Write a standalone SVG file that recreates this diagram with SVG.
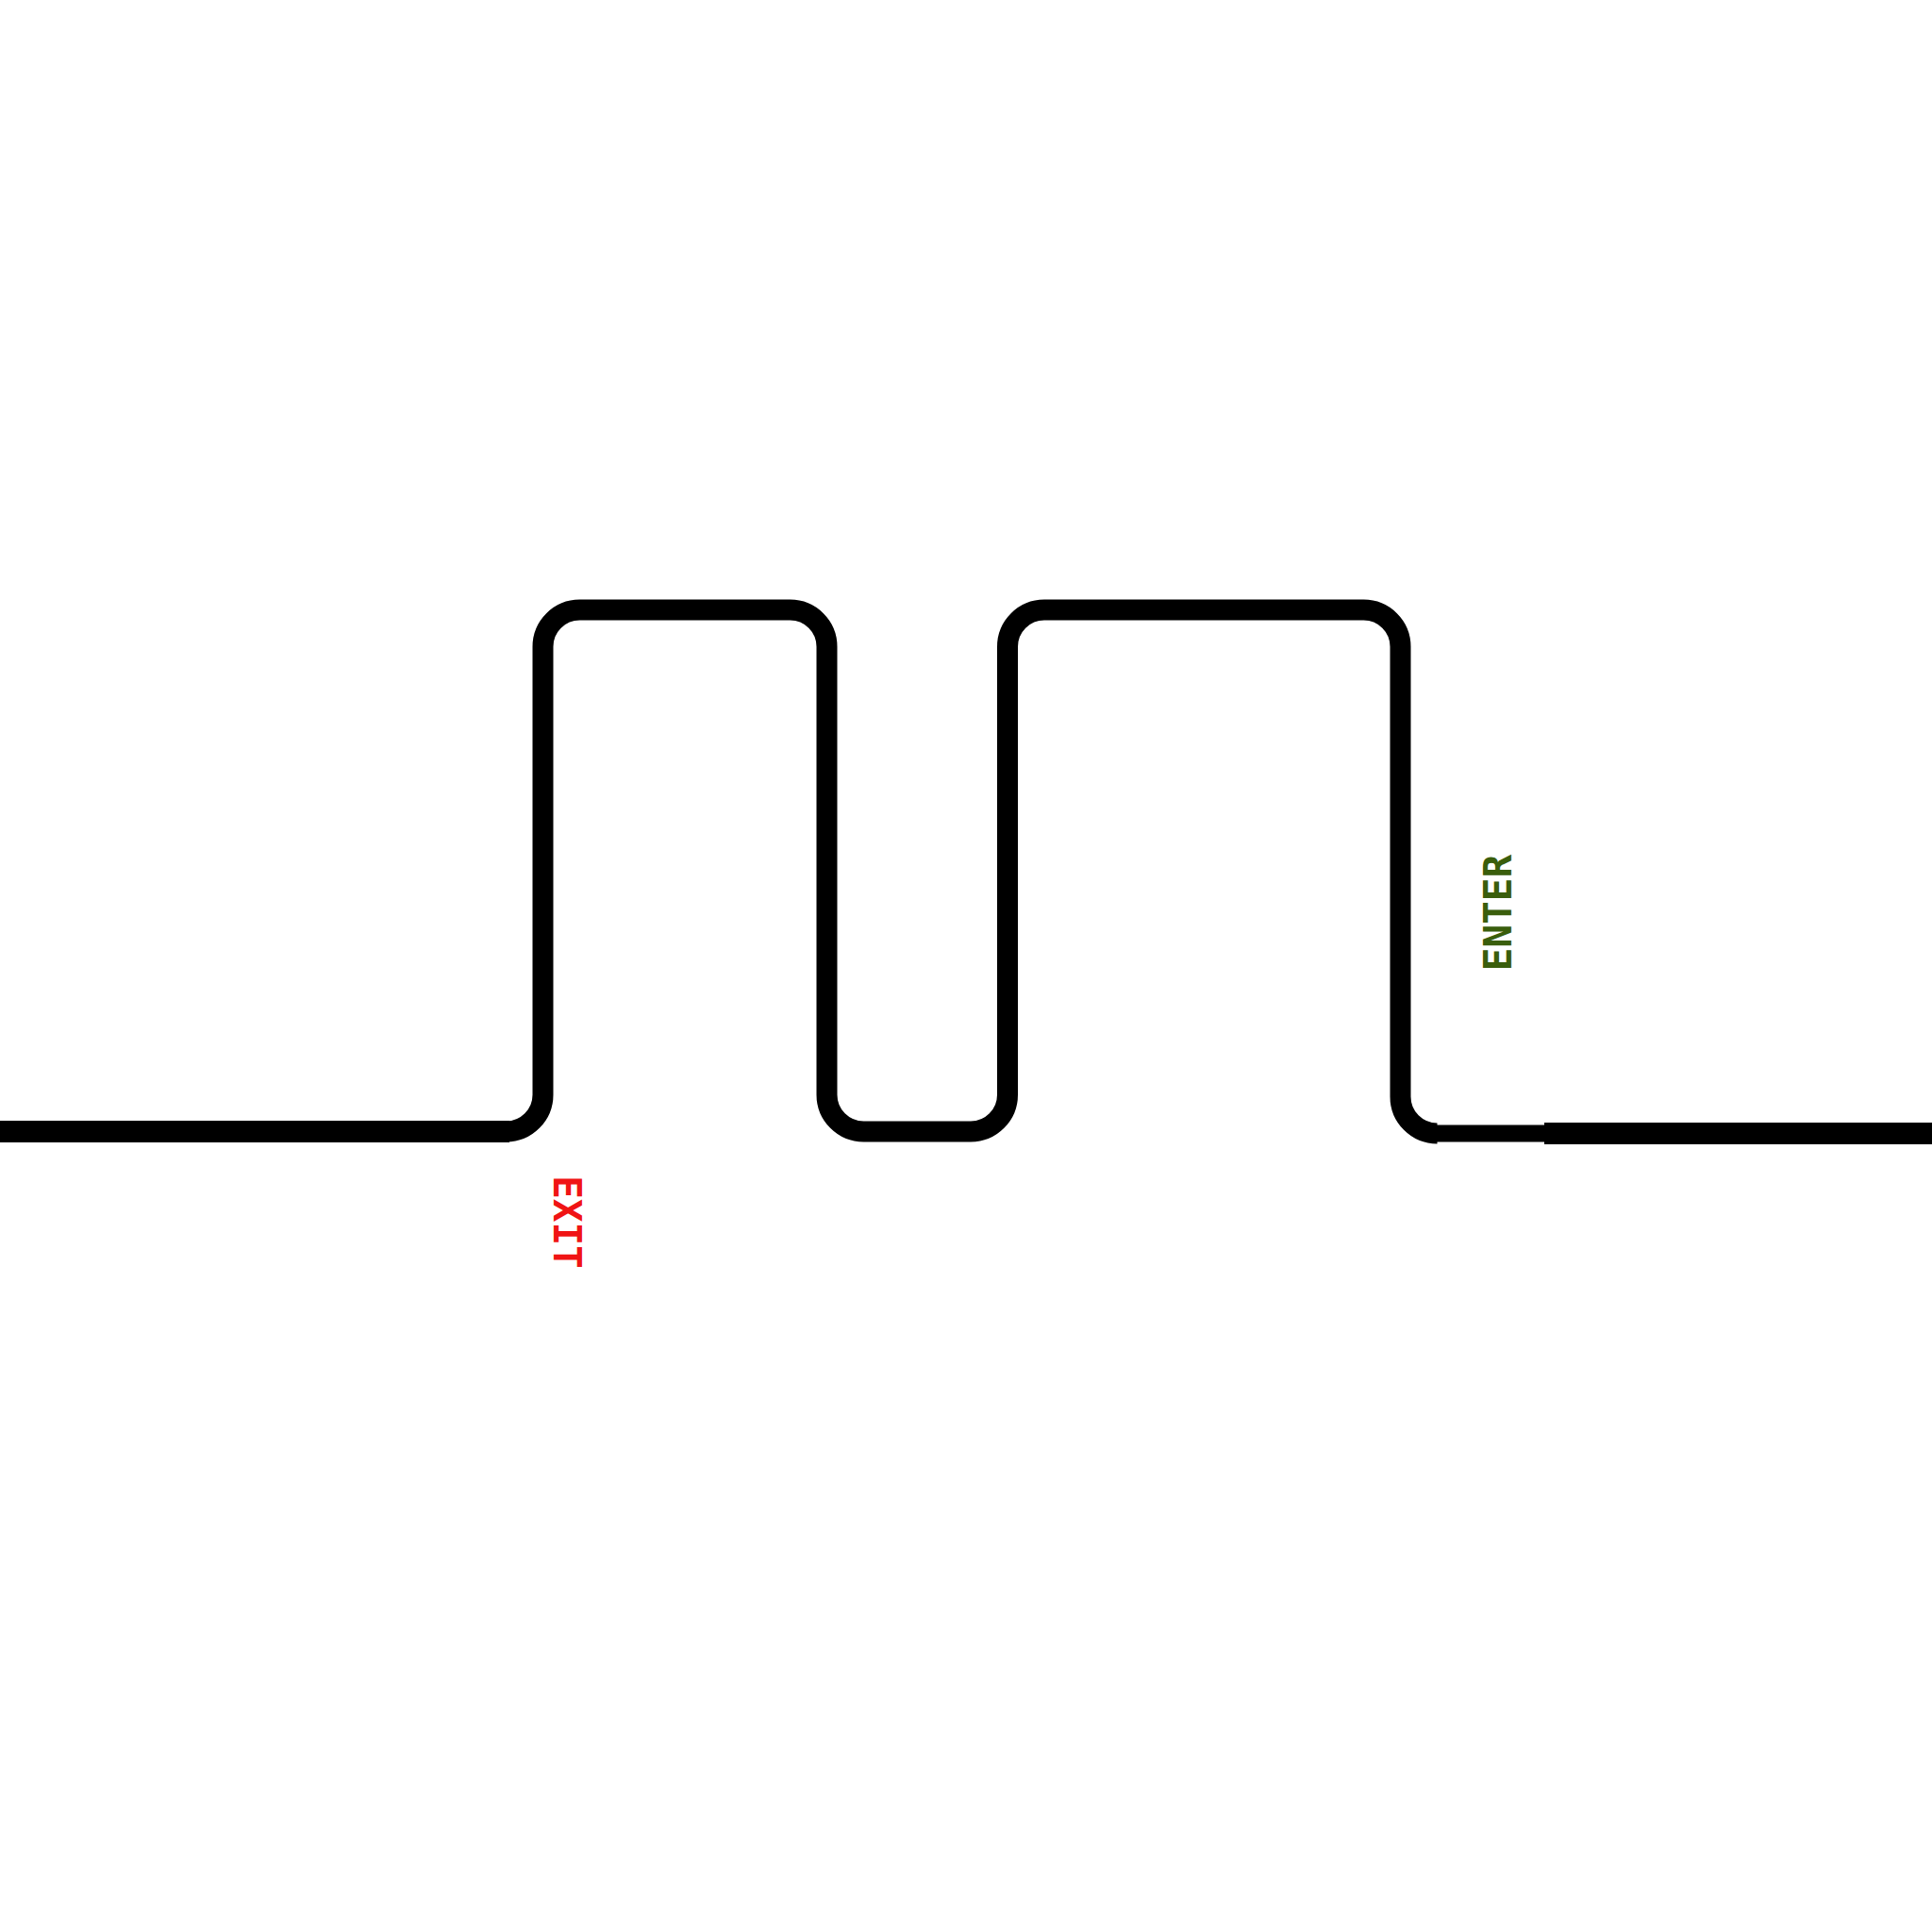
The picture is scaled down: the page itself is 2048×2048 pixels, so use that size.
<svg xmlns="http://www.w3.org/2000/svg" width="2048" height="2048" viewBox="0 0 2048 2048">
  <style>
    .track { fill: none; stroke: #000; stroke-width: 22; stroke-linejoin: round; }
    .thin { fill: none; stroke: #000; stroke-width: 18; }
    .thick { fill: none; stroke: #000; stroke-width: 23; }
    .lbl { font-family: "DejaVu Sans Mono", "Liberation Mono", monospace; font-weight: bold; font-size: 41px; text-anchor: middle; }
  </style>
  <rect width="2048" height="2048" fill="#fff"/>
  <g id="connectors">
    <path class="thick" d="M0,1199.5 H540"/>
    <path class="track" d="M530,1199.5 H536.5 A39 39 0 0 0 575.5,1160.5 V685.5 A39 39 0 0 1 614.5,646.5 H837.5 A39 39 0 0 1 876.5,685.5 V1160.5 A39 39 0 0 0 915.5,1199.5 H1029 A39 39 0 0 0 1068,1160.5 V685.5 A39 39 0 0 1 1107,646.5 H1445.5 A39 39 0 0 1 1484.5,685.5 V1162.5 A39 39 0 0 0 1523.5,1201.5"/>
    <path class="thin" d="M1521,1201.5 H1640"/>
    <path class="thick" d="M1637,1201.5 H2048"/>
  </g>
  <g id="exit-label">
    <text class="lbl" fill="#f01414" transform="translate(587,1295.5) rotate(90)">EXIT</text>
  </g>
  <g id="enter-label">
    <text class="lbl" fill="#3a5e0c" transform="translate(1602,967.5) rotate(-90)">ENTER</text>
  </g>
</svg>
